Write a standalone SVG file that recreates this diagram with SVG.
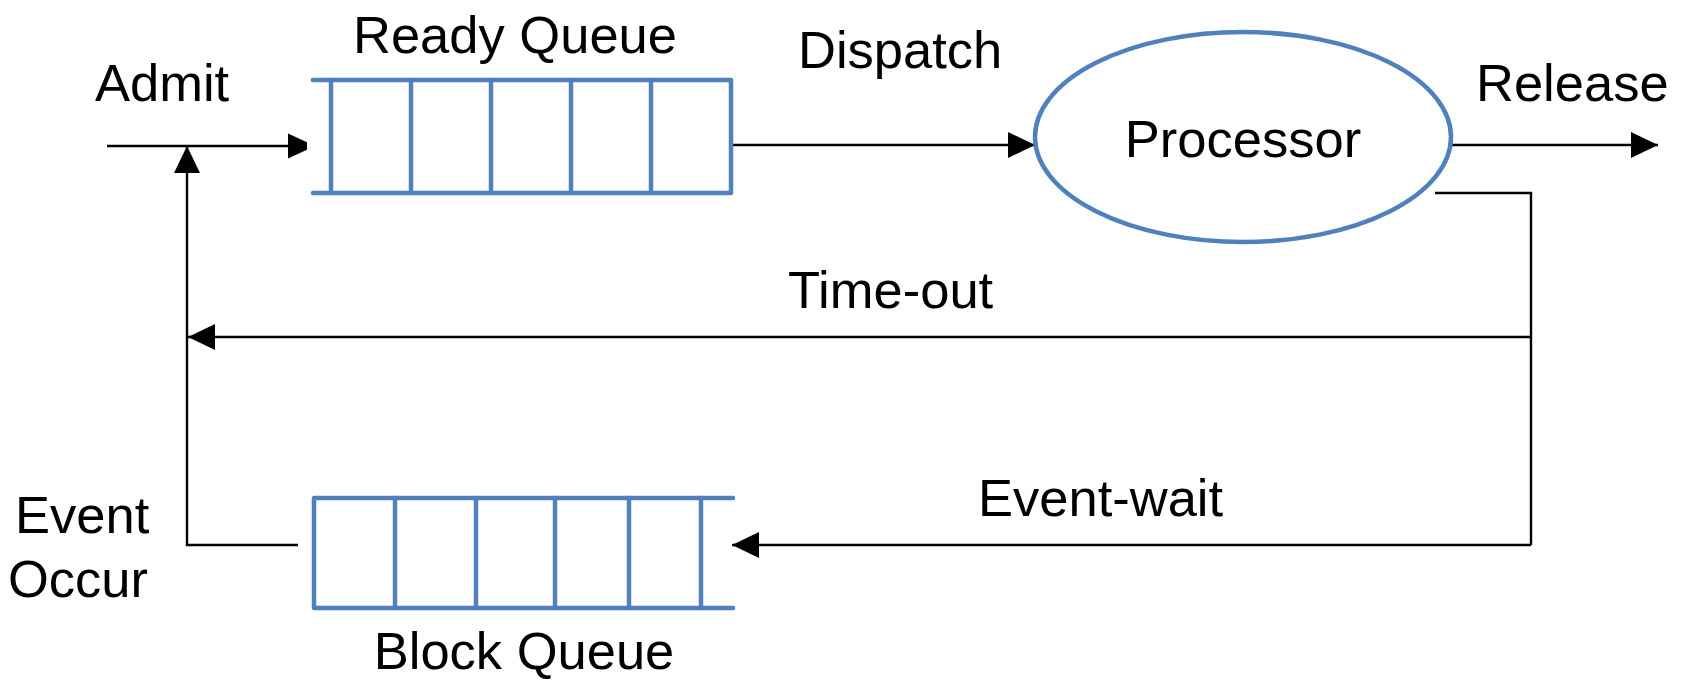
<svg xmlns="http://www.w3.org/2000/svg" width="1681" height="680" viewBox="0 0 1681 680">
  <style>
    .lbl { font-family: "Liberation Sans", Arial, sans-serif; font-size: 52.5px; fill: #000; }
    .mid { text-anchor: middle; }
    .q { fill: none; stroke: #4F81BD; stroke-width: 4.5; stroke-linecap: round; stroke-linejoin: round; }
    .wire { fill: none; stroke: #000; stroke-width: 2.4; }
    .head { fill: #000; stroke: none; }
  </style>
  <defs>
    <marker id="arrow" viewBox="0 0 27 26" refX="27" refY="13" markerWidth="27" markerHeight="26" markerUnits="userSpaceOnUse" orient="auto">
      <path d="M0,0 L27,13 L0,26 Z" class="head"/>
    </marker>
  </defs>

  <rect width="1681" height="680" fill="#fff"/>

  <!-- connectors -->
  <g id="connectors">
    <!-- admit: enters the ready queue -->
    <line class="wire" x1="107" y1="146" x2="300" y2="146"/>
    <polygon class="head" points="288,133.5 307,142.3 307,149.7 288,158.5"/>
    <!-- dispatch -->
    <line class="wire" x1="731" y1="145" x2="1035" y2="145" marker-end="url(#arrow)"/>
    <!-- release -->
    <line class="wire" x1="1452" y1="145" x2="1658" y2="145" marker-end="url(#arrow)"/>
    <!-- processor feedback trunk -->
    <polyline class="wire" points="1435,193 1531,193 1531,545"/>
    <!-- time-out back to the admit path -->
    <line class="wire" x1="1531" y1="337" x2="188" y2="337" marker-end="url(#arrow)"/>
    <!-- event-wait into the block queue -->
    <line class="wire" x1="1531" y1="545" x2="732" y2="545" marker-end="url(#arrow)"/>
    <!-- event occur: block queue back up to admit -->
    <polyline class="wire" points="298,545 187,545 187,146" marker-end="url(#arrow)"/>
  </g>

  <!-- ready queue -->
  <g id="ready-queue">
    <path class="q" d="M313,80 H731 V193 H313"/>
    <path class="q" d="M331,80 V193 M411,80 V193 M491,80 V193 M571,80 V193 M651,80 V193"/>
    <text class="lbl mid" x="515" y="53">Ready Queue</text>
  </g>

  <!-- processor -->
  <g id="processor">
    <ellipse cx="1243" cy="137" rx="208" ry="105" fill="#fff" stroke="#4F81BD" stroke-width="4.5"/>
    <text class="lbl mid" x="1243" y="157">Processor</text>
  </g>

  <!-- block queue -->
  <g id="block-queue">
    <path class="q" d="M733,498 H314 V608 H733"/>
    <path class="q" d="M395,498 V608 M476,498 V608 M555,498 V608 M629,498 V608 M701,498 V608"/>
    <text class="lbl mid" x="524" y="669">Block Queue</text>
  </g>

  <!-- transition labels -->
  <g id="labels">
    <text class="lbl" x="95" y="101">Admit</text>
    <text class="lbl" x="798" y="68">Dispatch</text>
    <text class="lbl" x="1476" y="101">Release</text>
    <text class="lbl" x="788" y="308">Time-out</text>
    <text class="lbl" x="978" y="516">Event-wait</text>
    <text class="lbl" x="15" y="533">Event</text>
    <text class="lbl" x="8" y="597">Occur</text>
  </g>
</svg>
